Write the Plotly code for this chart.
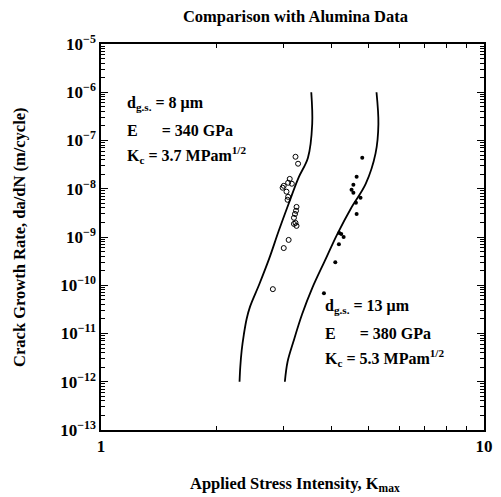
import plotly.graph_objects as go

# ---- data ----
# Model curve, d_gs = 8 um (K in MPa m^1/2, da/dN in m/cycle)
curve8_K = [2.30, 2.31, 2.33, 2.36, 2.40, 2.45, 2.59, 2.75, 2.91, 3.09, 3.28, 3.47, 3.56, 3.54]
curve8_dadn = [1e-12, 2.0e-12, 4.5e-12, 9.5e-12, 2.0e-11, 3.6e-11, 1.05e-10, 3.6e-10,
               1.33e-9, 4.9e-9, 1.7e-8, 4.4e-8, 2.2e-7, 1.0e-6]

# Model curve, d_gs = 13 um
curve13_K = [3.02, 3.07, 3.18, 3.35, 3.56, 3.84, 4.14, 4.50, 4.91, 5.21, 5.30, 5.24]
curve13_dadn = [1e-12, 2.6e-12, 6.8e-12, 2.5e-11, 8.7e-11, 3.2e-10, 1.15e-9, 4.0e-9,
                1.26e-8, 5.4e-8, 2.2e-7, 1.0e-6]

# Alumina data, open circles
open_K = [3.22, 3.27, 3.11, 3.08, 3.00, 2.98, 3.15, 3.05, 3.08, 3.07, 3.24, 3.23, 3.21,
          3.19, 3.22, 3.19, 3.24, 3.09, 3.00, 2.81]
open_dadn = [4.6e-8, 3.3e-8, 1.6e-8, 1.33e-8, 1.15e-8, 1.05e-8, 1.27e-8, 8.7e-9, 6.8e-9,
             5.9e-9, 4.2e-9, 3.5e-9, 3.0e-9, 2.5e-9, 1.96e-9, 1.87e-9, 1.7e-9, 8.7e-10,
             5.9e-10, 8.3e-11]

# Alumina data, filled circles
filled_K = [4.81, 4.65, 4.56, 4.51, 4.56, 4.76, 4.63, 4.65, 4.19, 4.24, 4.30, 4.18, 4.09, 3.82]
filled_dadn = [4.4e-8, 1.78e-8, 1.21e-8, 9.5e-9, 8.3e-9, 6.5e-9, 5.1e-9, 3.0e-9, 1.21e-9,
               1.15e-9, 1.0e-9, 7.1e-10, 3.0e-10, 6.8e-11]

y_exponents = [-5, -6, -7, -8, -9, -10, -11, -12, -13]
x_ticks = [1, 10]

FONT = "Liberation Serif"

fig = go.Figure()
for cx, cy in ((curve8_K, curve8_dadn), (curve13_K, curve13_dadn)):
    fig.add_trace(go.Scatter(x=cx, y=cy, mode="lines",
                             line=dict(color="black", width=1.8, shape="spline", smoothing=1.0),
                             showlegend=False))
fig.add_trace(go.Scatter(x=open_K, y=open_dadn, mode="markers",
                         marker=dict(symbol="circle-open", size=5, color="black",
                                     line=dict(width=1, color="black")),
                         showlegend=False))
fig.add_trace(go.Scatter(x=filled_K, y=filled_dadn, mode="markers",
                         marker=dict(symbol="circle", size=4, color="black"),
                         showlegend=False))

axis_common = dict(showline=True, linecolor="black", linewidth=1.5, mirror="ticks",
                   ticks="inside", tickcolor="black", tickwidth=1, showgrid=False,
                   zeroline=False)

fig.update_xaxes(type="log", range=[0, 1], tickvals=x_ticks,
                 ticktext=[str(v) for v in x_ticks], ticklen=7,
                 tickfont=dict(family=FONT, size=17, color="black", weight="bold"),
                 minor=dict(ticks="inside", ticklen=4, tickcolor="black",
                            tickvals=[2, 3, 4, 5, 6, 7, 8, 9]),
                 **axis_common)

minor_y = []
for e in y_exponents[1:]:
    for m in range(2, 10):
        minor_y.append(m * 10.0 ** e)

fig.update_yaxes(type="log", range=[-13, -5], tickvals=[10.0 ** e for e in y_exponents],
                 ticktext=[f"10<sup>\u2212{abs(e)}</sup>" for e in y_exponents], ticklen=7,
                 tickfont=dict(family=FONT, size=17, color="black", weight="bold"),
                 minor=dict(ticks="inside", ticklen=4, tickcolor="black", tickvals=minor_y),
                 **axis_common)

txt = dict(family=FONT, size=16, color="black", weight="bold")
ann = []
def line(x, y, s):
    ann.append(dict(x=x, y=y, xref="paper", yref="paper", text=s, showarrow=False,
                    xanchor="left", yanchor="middle", font=txt))

NB = "\u00a0"
px = lambda p: (p - 101) / 392
py = lambda p: (430 - p) / 386
line(px(126), py(103), f"d<sub>g.s.</sub>{NB}= 8 \u03bcm")
line(px(126), py(130), f"E{NB*6}= 340 GPa")
line(px(126), py(155), f"K<sub>c</sub> = 3.7 MPam<sup>1/2</sup>")
line(px(328), py(306), f"d<sub>g.s.</sub>{NB}= 13 \u03bcm")
line(px(328), py(333), f"E{NB*6}= 380 GPa")
line(px(328), py(358), f"K<sub>c</sub> = 5.3 MPam<sup>1/2</sup>")

ann.append(dict(x=px(17), y=0.5, xref="paper", yref="paper",
                text="Crack Growth Rate, da/dN (m/cycle)", textangle=-90,
                showarrow=False, xanchor="center", yanchor="middle",
                font=dict(family=FONT, size=16.5, color="black", weight="bold")))
ann.append(dict(x=px(300), y=py(484), xref="paper", yref="paper",
                text="Applied Stress Intensity, K<sub>max</sub>",
                showarrow=False, xanchor="center", yanchor="middle",
                font=dict(family=FONT, size=16.5, color="black", weight="bold")))

fig.update_layout(
    width=501, height=497,
    margin=dict(l=101, r=8, t=44, b=67),
    paper_bgcolor="white", plot_bgcolor="white",
    title=dict(text="Comparison with Alumina Data", x=px(300), xref="paper",
               xanchor="center",
               y=1 - 16 / 497, yref="container", yanchor="middle",
               font=dict(family=FONT, size=16.5, color="black", weight="bold")),
    annotations=ann,
    font=dict(family=FONT, color="black"),
)

fig.write_html("out.html")
